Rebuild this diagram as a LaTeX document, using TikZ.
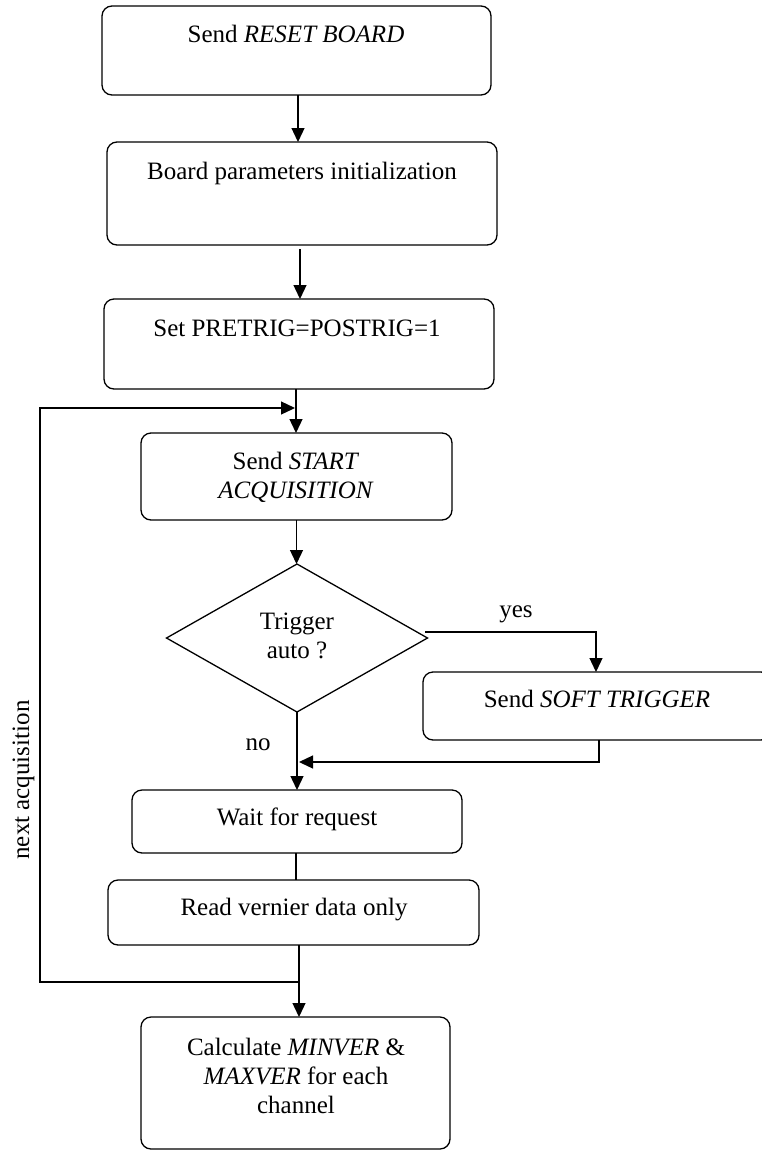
\documentclass[tikz,border=0pt]{standalone}
\usepackage{fontspec}
\setmainfont{Liberation Serif}
\usetikzlibrary{arrows.meta,shapes.geometric}
\begin{document}
\begin{tikzpicture}[x=1pt,y=-1pt,
  box/.style={draw,rounded corners=10pt,line width=1.3pt,inner sep=0pt,outer sep=0pt},
  txt/.style={font=\fontsize{25}{29}\selectfont,inner sep=0pt,anchor=base},
  line/.style={line width=1.3pt},
  arr/.style={line width=1.3pt,-{Triangle[length=14pt,width=13pt]}}]
\useasboundingbox (0,0) rectangle (762,1152);
\clip (0,0) rectangle (762,1152);
% boxes
\node[box,minimum width=389pt,minimum height=89pt] (b1) at (296.5,50.5) {};
\node[box,minimum width=390pt,minimum height=103pt] (b2) at (302,193.5) {};
\node[box,minimum width=390pt,minimum height=90pt] (b3) at (299,344) {};
\node[box,minimum width=311pt,minimum height=87pt] (b4) at (296.5,476.5) {};
\node[draw,diamond,line width=1.3pt,inner sep=0pt,outer sep=0pt,minimum width=261pt,minimum height=148pt] (dia) at (297,638) {};
\node[box,minimum width=348pt,minimum height=68pt] (sf) at (597,706) {};
\node[box,minimum width=330pt,minimum height=63pt] (wt) at (297,821.5) {};
\node[box,minimum width=371pt,minimum height=65pt] (rd) at (293.5,912.5) {};
\node[box,minimum width=309pt,minimum height=132pt] (bt) at (295.5,1083) {};
% texts
\node[txt] (t1) at (296,42) {Send \textit{RESET BOARD}};
\node[txt] (t2) at (302,179) {Board parameters initialization};
\node[txt] (t3) at (297,336) {Set PRETRIG=POSTRIG=1};
\node[txt] (t4a) at (296,469) {Send \textit{START}};
\node[txt] (t4b) at (296,498) {\textit{ACQUISITION}};
\node[txt] (td1) at (297,629) {Trigger};
\node[txt] (td2) at (297,658) {auto ?};
\node[txt] (ts) at (597,707) {Send \textit{SOFT TRIGGER}};
\node[txt] (tyes) at (516,617) {yes};
\node[txt] (tno) at (258,750) {no};
\node[txt] (tw) at (297,825) {Wait for request};
\node[txt] (tr) at (294,915) {Read vernier data only};
\node[txt] (tc1) at (296,1055) {Calculate \textit{MINVER} \&};
\node[txt] (tc2) at (296,1084) {\textit{MAXVER} for each};
\node[txt] (tc3) at (296,1113) {channel};
\node[txt,rotate=90] (tnext) at (29,780) {next acquisition};
% coordinates
\coordinate (j1) at (299,982);
\coordinate (lb) at (40,982);
\coordinate (lt) at (40,408);
\coordinate (j2) at (295,408);
\coordinate (ys) at (425,632);
\coordinate (j3) at (299,762);
% connectors
\draw[arr] ([xshift=1.5pt]b1.south) -- ([xshift=1.5pt]b1.south |- b2.north);
\draw[arr] ([xshift=-2pt,yshift=-4pt]b2.south) -- ([xshift=-2pt]b2.south |- b3.north);
\draw[arr] ([xshift=-3pt]b3.south) -- ([xshift=-3pt]b3.south |- b4.north);
\draw[arr] (j1) -- (lb) -- (lt) -- (j2);
\draw[arr] (b4.south) -- (b4.south |- dia.north);
\draw[arr] (ys) -| ([xshift=-1pt]sf.north);
\draw[arr] ([xshift=2pt]sf.south) |- (j3);
\draw[arr] (dia.south) -- (dia.south |- wt.north);
\draw[line] ([xshift=-1pt]wt.south) -- ([xshift=-1pt]wt.south |- rd.north);
\draw[arr] ([xshift=5.5pt]rd.south) -- ([xshift=5.5pt]rd.south |- bt.north);
\end{tikzpicture}
\end{document}
